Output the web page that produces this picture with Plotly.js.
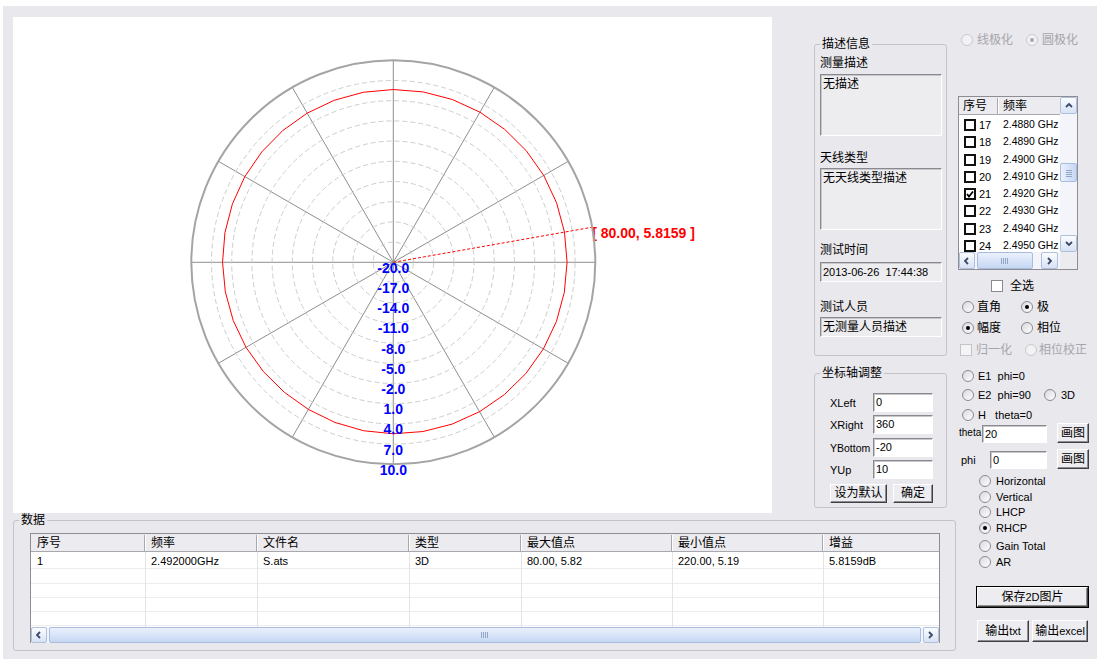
<!DOCTYPE html>
<html><head><meta charset="utf-8">
<script src="https://cdn.plot.ly/plotly-3.0.1.min.js"></script>
<style>
html,body{margin:0;padding:0;}
body{width:1097px;height:659px;background:#E9E8ED;position:relative;overflow:hidden;
 font-family:"Liberation Sans","Noto Sans CJK SC",sans-serif;font-size:12px;color:#000;}
#ui div{box-sizing:border-box;}
#plot{position:absolute;left:13px;top:17px;width:759px;height:496px;background:#fff;}
</style></head>
<body>
<div id="ui"></div>
<div id="plot"></div>
<script>
// ---------------- chart data ----------------
const thetaDeg = [0,10,20,30,40,50,60,70,80,90,100,110,120,130,140,150,160,170,180,
                  190,200,210,220,230,240,250,260,270,280,290,300,310,320,330,340,350,360];
const gainDb   = [5.66,5.69,5.72,5.74,5.76,5.78,5.80,5.81,5.8159,5.81,5.79,5.77,5.74,5.70,5.66,5.62,5.57,5.52,5.47,
                  5.40,5.31,5.23,5.19,5.21,5.26,5.30,5.33,5.36,5.39,5.42,5.46,5.50,5.54,5.58,5.61,5.64,5.66];
const radialRange = [-20, 10];
const radialTickVals = [-20,-17,-14,-11,-8,-5,-2,1,4,7,10];
const radialTickText = ['-20.0','-17.0','-14.0','-11.0','-8.0','-5.0','-2.0','1.0','4.0','7.0','10.0'];
const spokeAngles = [0,30,60,90,120,150,180,210,240,270,300,330];
const labelTheta = 180;
const peakTheta = 80;
const peakGain = 5.8159;
const peakLabel = '[ 80.00, 5.8159 ]';

// ---------------- UI data ----------------
const listIndex = [17,18,19,20,21,22,23,24];
const listFreq  = ['2.4880 GHz','2.4890 GHz','2.4900 GHz','2.4910 GHz','2.4920 GHz','2.4930 GHz','2.4940 GHz','2.4950 GHz'];
const listChecked = 21;
const tableHeaders = ['序号','频率','文件名','类型','最大值点','最小值点','增益'];
const tableRow = ['1','2.492000GHz','S.ats','3D','80.00, 5.82','220.00, 5.19','5.8159dB'];

// ---------------- Plotly polar chart ----------------
const traces = [
  {type:'scatterpolar', mode:'lines', r:gainDb, theta:thetaDeg,
   line:{color:'#FF0000', width:1}, hoverinfo:'skip'},
  {type:'scatterpolar', mode:'lines', r:[radialRange[0], radialRange[1]], theta:[peakTheta, peakTheta],
   line:{color:'#FF0000', width:1, dash:'3px,2px'}, hoverinfo:'skip'},
  {type:'scatterpolar', mode:'text', r:[radialRange[1]], theta:[peakTheta], text:[peakLabel],
   textposition:'bottom right', cliponaxis:false,
   textfont:{family:'Liberation Sans, Arial', size:14, color:'#FF0000', weight:'bold'}, hoverinfo:'skip'},
  {type:'scatterpolar', mode:'text', r:radialTickVals, theta:radialTickVals.map(()=>labelTheta),
   text:radialTickText, textposition:'bottom center', cliponaxis:false,
   textfont:{family:'Liberation Sans, Arial', size:14, color:'#0000FF', weight:'bold'}, hoverinfo:'skip'}
];
const layout = {
  width:759, height:496, margin:{l:0,r:0,t:0,b:0},
  paper_bgcolor:'#FFFFFF', showlegend:false, hovermode:false,
  polar:{
    domain:{x:[0.2349,0.7672], y:[0.0982,0.9127]},
    bgcolor:'#FFFFFF',
    angularaxis:{rotation:90, direction:'clockwise', tickmode:'array', tickvals:spokeAngles,
      showticklabels:false, ticks:'', showgrid:true, gridcolor:'#8E8E8E', gridwidth:1,
      showline:true, linecolor:'#A4A4A4', linewidth:2},
    radialaxis:{range:radialRange, tickmode:'array', tickvals:radialTickVals, showticklabels:false,
      ticks:'', showline:false, showgrid:true, gridcolor:'#CDCDCD', gridwidth:1, griddash:'5px,3px'}
  }
};
Plotly.newPlot('plot', traces, layout, {staticPlot:true, displayModeBar:false});

// ---------------- UI widgets ----------------
const U = document.getElementById('ui');
function add(css, text){ const d=document.createElement('div'); d.style.cssText='position:absolute;'+css;
  if(text!==undefined) d.textContent=text; U.appendChild(d); return d; }
function txt(x,cy,t,o){ o=o||{}; const fs=o.fs||12;
  return add(`left:${x}px;top:${cy-8}px;height:16px;line-height:16px;font-size:${fs}px;white-space:nowrap;color:${o.color||'#000'};${o.css||''}`, t); }
function rect(x1,y1,x2,y2,css){ return add(`left:${x1}px;top:${y1}px;width:${x2-x1}px;height:${y2-y1}px;${css}`); }
function group(x1,y1,x2,y2,title){
  rect(x1,y1,x2,y2,'border:1px solid #C4C3C9;border-radius:3px;');
  txt(x1+6,y1,title,{css:'background:#E9E8ED;padding:0 2px;'});
}
function input(x1,y1,x2,y2,t,bg,top){
  const d=rect(x1,y1,x2,y2,`background:${bg||'#fff'};border:1px solid;border-color:#8A898F #FFFFFF #FFFFFF #8A898F;box-shadow:inset 1px 1px 0 #C8C7CC;`);
  if(t!==undefined){ const s=document.createElement('div');
    s.style.cssText=`position:absolute;left:2px;top:${top?2:0}px;right:0;line-height:${top?14:(y2-y1-2)}px;font-size:${/[\u4e00-\u9fff]/.test(t)?12:11}px;white-space:pre;`;
    s.textContent=t; d.appendChild(s);}
  return d;
}
function button(x1,y1,x2,y2,t,dflt){
  const d=rect(x1,y1,x2,y2,`background:#EDECF0;border:1px solid;border-color:#FFFFFF #404040 #404040 #FFFFFF;box-shadow:inset -1px -1px 0 #8E8D92;${dflt?'outline:1px solid #000;':''}text-align:center;line-height:${y2-y1-2}px;font-size:12px;white-space:nowrap;`);
  d.innerHTML = t.replace(/([A-Za-z0-9]+)/g,'<span style="font-size:11px">$1</span>'); return d;
}
function radio(cx,cy,checked,disabled){
  rect(cx-6,cy-6,cx+6,cy+6,`border:1px solid ${disabled?'#C9C8CC':'#8B8A90'};border-radius:50%;background:${disabled?'#F2F1F4':'linear-gradient(135deg,#D9D8DD,#FFFFFF)'};`);
  if(checked) rect(cx-2,cy-2,cx+2,cy+2,`border-radius:50%;background:${disabled?'#A8A7AC':'#000'};`);
}
function check(cx,cy,checked,kind){
  const css = kind==='list' ? 'border:2px solid #111;background:#fff;'
            : kind==='dis' ? 'border:1px solid #C4C3C8;background:#F4F3F6;'
            : 'border:1px solid #8B8A90;background:#fff;';
  const d=rect(cx-6,cy-6,cx+6,cy+6,css);
  if(checked){ d.innerHTML='<svg width="8" height="8" style="position:absolute;left:0;top:0"><path d="M1 4 L3 6.5 L7 1.5" stroke="#000" stroke-width="1.8" fill="none"/></svg>'; }
}
function arrowBtn(x1,y1,x2,y2,dir){
  const d=rect(x1,y1,x2,y2,'background:linear-gradient(#FBFCFF,#D7E2F5);border:1px solid #AFC0DC;border-radius:2px;');
  const p={up:'M2 6 L5 3 L8 6',down:'M2 3 L5 6 L8 3',left:'M6 2 L3 5 L6 8',right:'M3 2 L6 5 L3 8'}[dir];
  const w=x2-x1-2,h=y2-y1-2;
  d.innerHTML=`<svg width="10" height="10" style="position:absolute;left:${(w-10)/2}px;top:${(h-10)/2}px"><path d="${p}" stroke="#3C4A66" stroke-width="1.8" fill="none"/></svg>`;
}
function thumb(x1,y1,x2,y2,vertical){
  const d=rect(x1,y1,x2,y2,`background:linear-gradient(${vertical?'90deg,':''}#EAF1FD,#C6D7F3);border:1px solid #A9BCDD;border-radius:2px;`);
  d.innerHTML=`<div style="position:absolute;left:50%;top:50%;transform:translate(-50%,-50%);width:${vertical?6:8}px;height:${vertical?8:6}px;background:repeating-linear-gradient(${vertical?'0deg':'90deg'},#93A6C6 0 1px,transparent 1px 2px);"></div>`;
}

// window frame
rect(0,0,1097,6,'background:#FFFFFF;');
rect(0,0,3,659,'background:#FFFFFF;');

// group: description
group(814,44,947,356,'描述信息');
txt(820,63,'测量描述');
input(820,74,942,136,'无描述','#EDECEF',true);
txt(820,158,'天线类型');
input(820,168,942,230,'无天线类型描述','#EDECEF',true);
txt(820,250,'测试时间');
input(820,262,942,282,'2013-06-26  17:44:38','#EDECEF');
txt(820,307,'测试人员');
input(820,317,942,337,'无测量人员描述','#EDECEF');

// group: axis settings
group(814,373,947,508,'坐标轴调整');
txt(830,403,'XLeft',{fs:11});  input(873,393,933,412,'0');
txt(830,425,'XRight',{fs:11}); input(873,415,933,434,'360');
txt(830,448,'YBottom',{fs:10.5});input(873,438,933,457,'-20');
txt(830,470,'YUp',{fs:11});    input(873,460,933,479,'10');
button(830,484,887,503,'设为默认');
button(893,484,933,503,'确定');

// polarization radios (disabled)
radio(967,40,false,true); txt(977,40,'线极化',{color:'#A6A5AB'});
radio(1032,40,true,true); txt(1042,40,'圆极化',{color:'#A6A5AB'});

// frequency list
rect(958,96,1078,270,'background:#fff;border:1px solid #8E8D93;');
rect(959,97,1060,115,'background:#ECEBEF;border-bottom:1px solid #A9A8AE;');
rect(997,98,999,114,'border-left:1px solid #A9A8AE;border-right:1px solid #fff;');
txt(963,106,'序号'); txt(1003,106,'频率');
listIndex.forEach((n,i)=>{
  const cy = 125 + i*17.25;
  check(970,cy,n===listChecked,'list');
  txt(979,cy,String(n),{fs:11});
  txt(1003,cy,listFreq[i],{fs:10.4});
});
rect(1060,97,1077,252,'background:#F3F5FA;');
arrowBtn(1060,97,1077,114,'up');
thumb(1060,163,1077,182,true);
arrowBtn(1060,235,1077,252,'down');
rect(959,252,1077,269,'background:#F3F5FA;');
arrowBtn(959,252,975,269,'left');
thumb(977,252,1033,269,false);
arrowBtn(1041,252,1058,269,'right');
rect(1060,252,1077,269,'background:#ECEBEF;');

// options
check(997,286,false,'std'); txt(1010,286,'全选');
radio(968,307,false); txt(977,307,'直角');
radio(1027,307,true); txt(1037,307,'极');
radio(968,328,true); txt(977,328,'幅度');
radio(1027,328,false); txt(1037,328,'相位');
check(966,350,false,'dis'); txt(976,350,'归一化',{color:'#A6A5AB'});
radio(1031,350,false,true); txt(1039,350,'相位校正',{color:'#A6A5AB'});
radio(968,376,false); txt(978,376,'E1  phi=0',{fs:11,css:'white-space:pre;'});
radio(968,395,false); txt(978,395,'E2  phi=90',{fs:11,css:'white-space:pre;'});
radio(1050,395,false); txt(1061,395,'3D',{fs:11});
radio(968,415,false); txt(978,415,'H   theta=0',{fs:11,css:'white-space:pre;'});
txt(959,433,'theta',{fs:10}); input(982,425,1047,443,'20'); button(1057,423,1089,443,'画图');
txt(961,460,'phi',{fs:11});   input(990,451,1047,469,'0');  button(1057,449,1089,469,'画图');
[['Horizontal',481,false],['Vertical',497,false],['LHCP',512,false],['RHCP',528,true],['Gain Total',546,false],['AR',562,false]]
 .forEach(([t,cy,c])=>{ radio(985,cy,c); txt(996,cy,t,{fs:11}); });
button(977,587,1088,607,'保存2D图片',true);
button(977,620,1029,642,'输出txt');
button(1032,620,1088,642,'输出excel');

// data group + table
group(13,520,956,651,'数据');
rect(30,533,940,643,'background:#fff;border:1px solid #8E8D93;');
const colX = [31,145,257,409,521,672,823,939];
rect(31,534,939,552,'background:#ECEBEF;border-bottom:1px solid #A9A8AE;');
tableHeaders.forEach((h,i)=>{
  if(i>0) rect(colX[i]-1,535,colX[i]+1,551,'border-left:1px solid #A9A8AE;border-right:1px solid #fff;');
  txt(colX[i]+6,543,h);
});
[568,583,597,611,625].forEach(y=>rect(31,y,939,y+1,'background:#ECECEC;'));
colX.slice(1,7).forEach(x=>rect(x,552,x+1,627,'background:#E4E4E4;'));
tableRow.forEach((v,i)=>txt(colX[i]+6,561,v,{fs:11}));
rect(31,627,939,643,'background:#F3F5FA;');
arrowBtn(31,627,47,643,'left');
thumb(49,627,921,643,false);
arrowBtn(923,627,939,643,'right');
</script>
</body></html>
